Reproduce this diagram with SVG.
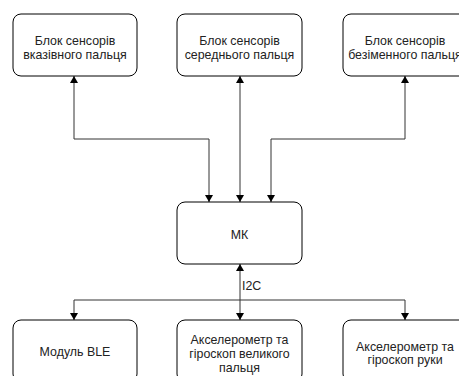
<svg xmlns="http://www.w3.org/2000/svg" width="459" height="376" viewBox="0 0 459 376">
<style>
.box{fill:#fff;stroke:#000;stroke-width:1}
.t{font-family:"Liberation Sans",Arial,sans-serif;font-size:12.4px;fill:#222;text-anchor:middle}
.e{fill:none;stroke:#333;stroke-width:1}
</style>
<defs>
<marker id="a" viewBox="0 0 10 10" refX="10" refY="5" markerWidth="7" markerHeight="8" markerUnits="userSpaceOnUse" orient="auto-start-reverse" preserveAspectRatio="none">
<path d="M0,0 L10,5 L0,10 z" fill="#000"/>
</marker>
</defs>
<g id="connectors">
<path class="e" d="M74,76 V139 H209 V202" marker-start="url(#a)" marker-end="url(#a)"/>
<path class="e" d="M240,76 V202" marker-start="url(#a)" marker-end="url(#a)"/>
<path class="e" d="M405,76 V139 H271 V202" marker-start="url(#a)" marker-end="url(#a)"/>
<path class="e" d="M240,264 V320" marker-start="url(#a)" marker-end="url(#a)"/>
<path class="e" d="M240,300 H74 V320" marker-end="url(#a)"/>
<path class="e" d="M240,300 H405 V320" marker-end="url(#a)"/>
<text x="242" y="289.5" class="t" style="text-anchor:start">I2C</text>
</g>
<g id="n1">
<rect class="box" x="13" y="14" width="124" height="62" rx="8"/>
<text class="t" x="75" y="44.5">Блок сенсорів</text>
<text class="t" x="75" y="58.5">вказівного пальця</text>
</g>
<g id="n2">
<rect class="box" x="177" y="14" width="125" height="62" rx="8"/>
<text class="t" x="239.5" y="44.5">Блок сенсорів</text>
<text class="t" x="239.5" y="58.5">середнього пальця</text>
</g>
<g id="n3">
<rect class="box" x="343" y="14" width="124" height="62" rx="8"/>
<text class="t" x="405" y="44.5">Блок сенсорів</text>
<text class="t" x="405" y="58.5">безіменного пальця</text>
</g>
<g id="mk">
<rect class="box" x="177" y="202" width="125" height="62" rx="8"/>
<text class="t" x="239.5" y="238.5">МК</text>
</g>
<g id="b1">
<rect class="box" x="13" y="320" width="124" height="62" rx="8"/>
<text class="t" x="75" y="356">Модуль BLE</text>
</g>
<g id="b2">
<rect class="box" x="177" y="320" width="125" height="62" rx="8"/>
<text class="t" x="239.5" y="343.5">Акселерометр та</text>
<text class="t" x="239.5" y="357.5">гіроскоп великого</text>
<text class="t" x="239.5" y="371.5">пальця</text>
</g>
<g id="b3">
<rect class="box" x="343" y="320" width="124" height="62" rx="8"/>
<text class="t" x="405" y="350.5">Акселерометр та</text>
<text class="t" x="405" y="364">гіроскоп руки</text>
</g>
</svg>
